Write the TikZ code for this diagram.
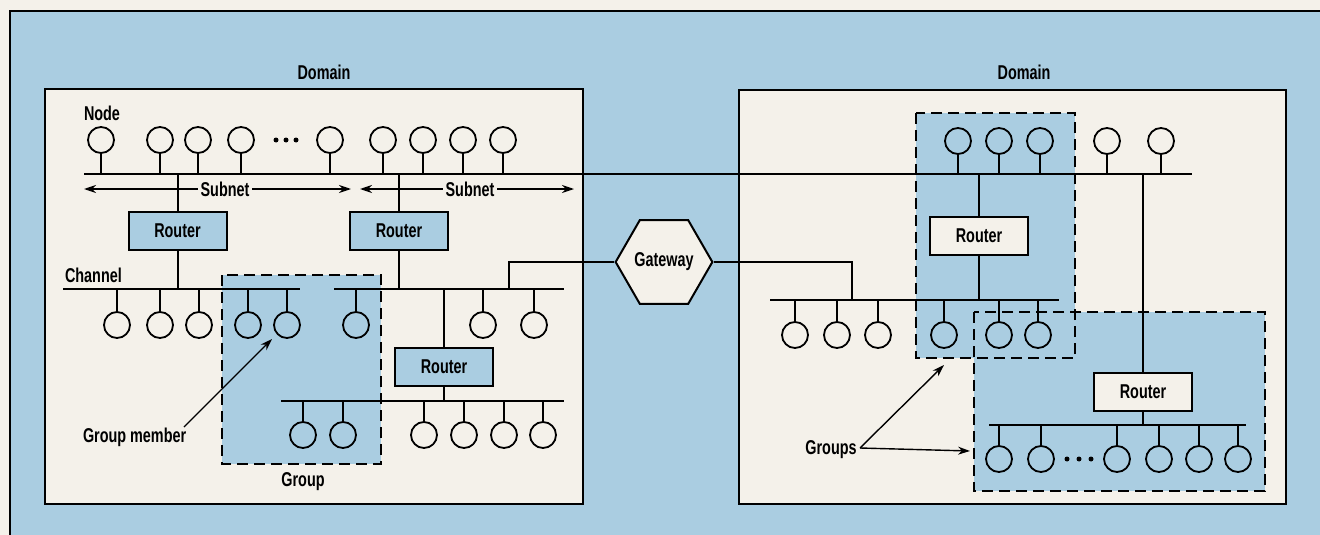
\documentclass[tikz,border=0pt]{standalone}
\usepackage{fontspec}
\setmainfont[FakeStretch=0.72]{Liberation Sans}
\usetikzlibrary{arrows.meta,shapes.geometric}
\definecolor{bgblue}{RGB}{170,205,225}
\definecolor{paper}{RGB}{244,241,234}
\begin{document}
\begin{tikzpicture}[x=1pt,y=-1pt,line width=2pt,
  lbl/.style={font=\bfseries\fontsize{20}{24}\selectfont,inner sep=1pt},
  host/.style={circle,draw,line width=1.8pt,minimum size=26pt,inner sep=0pt},
  routerbox/.style={draw,line width=2pt,minimum width=98pt,minimum height=38pt,inner sep=0pt,font=\bfseries\fontsize{20}{24}\selectfont},
  grpfill/.style={fill=bgblue},
  grpline/.style={draw,dash pattern=on 11pt off 6pt,line width=2pt},
  dom/.style={draw,fill=paper,line width=2.4pt},
  arr/.style={-{Stealth[length=12pt,width=8pt]},line width=1.4pt},
  dot/.style={circle,fill,inner sep=0pt,minimum size=5pt}]
\useasboundingbox (0,0) rectangle (1320,535);
% page and outer frame
\fill[paper] (0,0) rectangle (1320,535);
\fill[bgblue] (10,11) rectangle (1320,535);
\draw[line width=2pt] (10,535) -- (10,11) -- (1320,11);
% domains
\draw[dom] (45,89) rectangle (583,504);
\draw[dom] (739,90) rectangle (1286,504);
\node[lbl] (dl) at (324,72) {Domain};
\node[lbl] (dr) at (1024,72) {Domain};
% groups
\fill[grpfill] (222,275) rectangle (381,464);
\fill[grpfill] (916,113) rectangle (1075,358);
\fill[grpfill] (974,312) rectangle (1265,491);
\draw[grpline] (222,275) rectangle (381,464);
\draw[grpline] (916,113) rectangle (1075,358);
\draw[grpline] (974,312) rectangle (1265,491);
% bus coordinates
\coordinate (tbw) at (84,174);
\coordinate (tbe) at (1192,174);
\coordinate (c1w) at (63,289);
\coordinate (c1e) at (300,289);
\coordinate (c2w) at (334,289);
\coordinate (c2e) at (564,289);
\coordinate (lbw) at (281,401);
\coordinate (lbe) at (564,401);
\coordinate (rcw) at (770,300);
\coordinate (rce) at (1059,300);
\coordinate (rlw) at (989,425);
\coordinate (rle) at (1246,425);
\draw (tbw) -- (tbe);
\draw (c1w) -- (c1e);
\draw (c2w) -- (c2e);
\draw (lbw) -- (lbe);
\draw (rcw) -- (rce);
\draw (rlw) -- (rle);
% labels
\node[lbl,anchor=west] (nodelbl) at (82,113) {Node};
\node[lbl,anchor=west] (chanlbl) at (63,275) {Channel};
\node[lbl,anchor=west] (gm) at (81,437) {Group member};
\node[lbl] (grp) at (303,482) {Group};
\node[lbl] (grps) at (831,450) {Groups};
% subnet arrows
\node[lbl,fill=paper,inner sep=2pt] (sn1) at (225,189) {Subnet};
\node[lbl,fill=paper,inner sep=2pt] (sn2) at (470,189) {Subnet};
\coordinate (sa1) at (84,189);
\coordinate (sa2) at (351,189);
\coordinate (sa3) at (360,189);
\coordinate (sa4) at (574,189);
\draw[arr] (sn1.west) -- (sa1);
\draw[arr] (sn1.east) -- (sa2);
\draw[arr] (sn2.west) -- (sa3);
\draw[arr] (sn2.east) -- (sa4);
% routers
\node[routerbox,fill=bgblue] (rl1) at (177.5,231) {Router};
\node[routerbox,fill=bgblue] (rl2) at (399,231) {Router};
\node[routerbox,fill=bgblue] (rl3) at (444,367) {Router};
\node[routerbox,fill=paper] (rr1) at (979,235.5) {Router};
\node[routerbox,fill=paper] (rr2) at (1143,392) {Router};
\draw (rl1.north) -- (rl1.north |- tbw);
\draw (rl1.south) -- (rl1.south |- c1w);
\draw (rl2.north) -- (rl2.north |- tbw);
\draw (rl2.south) -- (rl2.south |- c2w);
\draw (rl3.north) -- (rl3.north |- c2w);
\draw (rl3.south) -- (rl3.south |- lbw);
\draw (rr1.north) -- (rr1.north |- tbw);
\draw (rr1.south) -- (rr1.south |- rcw);
\draw (rr2.north) -- (rr2.north |- tbw);
\draw (rr2.south) -- (rr2.south |- rlw);
% gateway
\node[regular polygon,regular polygon sides=6,minimum size=90pt,inner sep=0pt,draw,fill=paper,line width=2pt,font=\bfseries\fontsize{20}{24}\selectfont] (gw) at (664,262) {Gateway};
\coordinate (gwl) at (509,289);
\coordinate (gwr) at (852,300);
\draw (gw.west) -| (gwl);
\draw (gw.east) -| (gwr);
% hosts: top left row
\foreach \x [count=\i] in {101,160,198,241,330,383,423,463,503}{
  \node[host] (ta\i) at (\x,140) {};
  \draw (ta\i.south) -- (ta\i.south |- tbw);
}
\foreach \x [count=\i] in {276,286,296}{\node[dot] (tad\i) at (\x,140) {};}
% top right row
\foreach \x [count=\i] in {958,999,1040,1107,1161}{
  \node[host] (tb\i) at (\x,141) {};
  \draw (tb\i.south) -- (tb\i.south |- tbw);
}
% left channel row
\foreach \x [count=\i] in {117,160,199,248,287,356,483,534}{
  \node[host] (ca\i) at (\x,325) {};
  \draw (ca\i.north) -- (ca\i.north |- c1w);
}
% left lower row
\foreach \x [count=\i] in {303,343,424,464,504,543}{
  \node[host] (la\i) at (\x,435) {};
  \draw (la\i.north) -- (la\i.north |- lbw);
}
% right channel row
\foreach \x [count=\i] in {795,837,878,944,999,1038}{
  \node[host] (cb\i) at (\x,335) {};
  \draw (cb\i.north) -- (cb\i.north |- rcw);
}
% right lower row
\foreach \x [count=\i] in {999,1041,1117,1159,1199,1238}{
  \node[host] (lb\i) at (\x,459) {};
  \draw (lb\i.north) -- (lb\i.north |- rlw);
}
\foreach \x [count=\i] in {1067,1079,1091}{\node[dot] (lbd\i) at (\x,459) {};}
% pointer arrows
\coordinate (gmtail) at (184,427);
\coordinate (gmtip) at (272,339);
\draw[arr] (gmtail) -- (gmtip);
\coordinate (gtail) at (860,448);
\coordinate (gtip1) at (944,365);
\coordinate (gtip2) at (970,451);
\draw[arr] (gtail) -- (gtip1);
\draw[arr] (gtail) -- (gtip2);
\end{tikzpicture}
\end{document}
